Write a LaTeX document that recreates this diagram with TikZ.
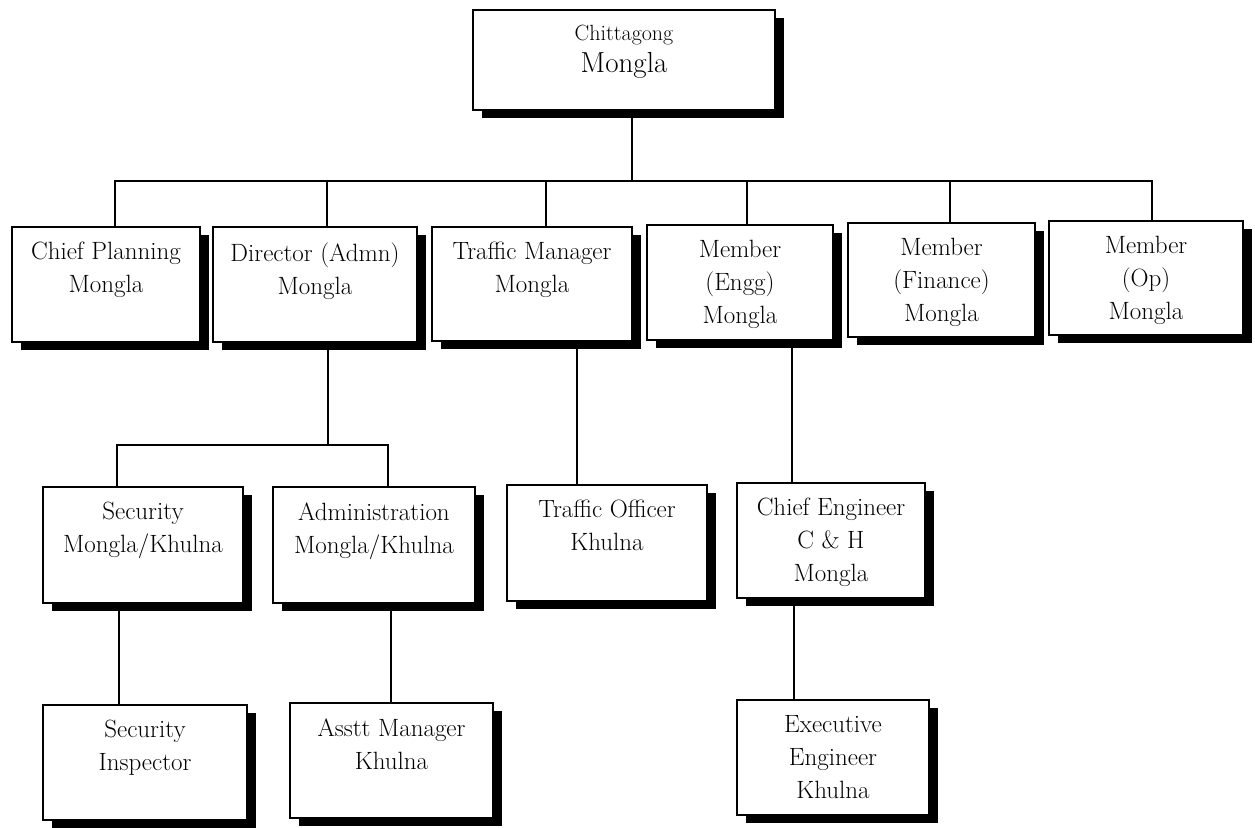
\documentclass[tikz,border=0pt]{standalone}
\usetikzlibrary{fit,shadows,backgrounds}
\begin{document}
\begin{tikzpicture}[x=1pt,y=-1pt,
  orgbox/.style={draw=black, line width=1.7pt, fill=white, inner sep=0pt,
    drop shadow={shadow xshift=9pt, shadow yshift=-8pt, fill=black, opacity=1}},
  orgtext/.style={anchor=north, align=center, inner sep=0pt, yshift=-16pt,
    font=\fontsize{25}{33}\selectfont},
  conn/.style={line width=2.4pt, line cap=rect},
  thinconn/.style={line width=1.3pt}]
\useasboundingbox (0,0) rectangle (1255,827);

% --- boxes ---
\node[orgbox, fit={(473,10) (775,110)}] (top) {};
\node[anchor=north, align=center, inner sep=0pt, yshift=-16pt] (topt) at (top.north)
  {\fontsize{22}{24}\selectfont Chittagong\\[6pt]\fontsize{29}{33}\selectfont Mongla};

\node[orgbox, fit={(12,227) (200,342)}] (cp) {};
\node[orgtext] (cpt) at (cp.north) {Chief Planning\\Mongla};
\node[orgbox, fit={(213,227) (417,342)}] (da) {};
\node[orgtext] (dat) at (da.north) {Director (Admn)\\Mongla};
\node[orgbox, fit={(432,227) (632,341)}] (tm) {};
\node[orgtext] (tmt) at (tm.north) {Traffic Manager\\Mongla};
\node[orgbox, fit={(647,225) (833,340)}] (me) {};
\node[orgtext] (met) at (me.north) {Member\\(Engg)\\Mongla};
\node[orgbox, fit={(848,223) (1035,337)}] (mf) {};
\node[orgtext] (mft) at (mf.north) {Member\\(Finance)\\Mongla};
\node[orgbox, fit={(1049,221) (1243,335)}] (mo) {};
\node[orgtext] (mot) at (mo.north) {Member\\(Op)\\Mongla};

\node[orgbox, fit={(43,487) (243,603)}] (sec) {};
\node[orgtext] (sect) at (sec.north) {Security\\Mongla/Khulna};
\node[orgbox, fit={(273,487) (475,603)}] (adm) {};
\node[orgtext] (admt) at (adm.north) {Administration\\Mongla/Khulna};
\node[orgbox, fit={(507,485) (707,601)}] (to) {};
\node[orgtext] (tot) at (to.north) {Traffic Officer\\Khulna};
\node[orgbox, fit={(737,483) (925,598)}] (ce) {};
\node[orgtext] (cet) at (ce.north) {Chief Engineer\\C \& H\\Mongla};

\node[orgbox, fit={(43,705) (247,820)}] (si) {};
\node[orgtext] (sit) at (si.north) {Security\\Inspector};
\node[orgbox, fit={(290,703) (493,818)}] (am) {};
\node[orgtext] (amt) at (am.north) {Asstt Manager\\Khulna};
\node[orgbox, fit={(737,700) (929,815)}] (ee) {};
\node[orgtext] (eet) at (ee.north) {Executive\\Engineer\\Khulna};

% --- junction points on the bus lines ---
\coordinate (bus) at (632,181);
\coordinate (b1) at (115,181);
\coordinate (b2) at (327,181);
\coordinate (b3) at (546,181);
\coordinate (b4) at (747,181);
\coordinate (b5) at (950,181);
\coordinate (b6) at (1152,181);
\coordinate (sub) at (328,445);
\coordinate (s1) at (117,445);
\coordinate (s2) at (388,445);

% --- connectors, behind the boxes ---
\begin{pgfonlayer}{background}
  \draw[conn] (bus |- top.south) -- (bus);
  \draw[thinconn] (b1) -- (b6);
  \foreach \b/\n in {b1/cp, b2/da, b3/tm, b4/me, b5/mf, b6/mo}
    \draw[conn, line width=2pt] (\b) -- (\b |- \n.north);
  \draw[conn] (sub |- da.south) -- (sub);
  \draw[thinconn, line width=2pt] (s1) -- (s2);
  \draw[conn, line width=2pt] (s1) -- (s1 |- sec.north);
  \draw[conn, line width=2pt] (s2) -- (s2 |- adm.north);
  \draw[conn] ([xshift=2pt]s1 |- sec.south) -- ([xshift=2pt]s1 |- si.north);
  \draw[conn] ([xshift=3pt]s2 |- adm.south) -- ([xshift=3pt]s2 |- am.north);
  \draw[conn] (577,0 |- tm.south) -- (577,0 |- to.north);
  \draw[conn] (792,0 |- me.south) -- (792,0 |- ce.north);
  \draw[conn] (794,0 |- ce.south) -- (794,0 |- ee.north);
\end{pgfonlayer}
\end{tikzpicture}
\end{document}
